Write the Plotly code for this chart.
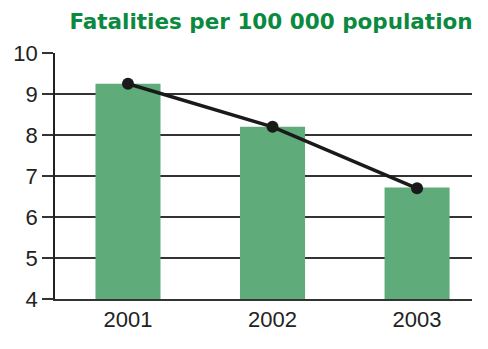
import plotly.graph_objects as go

years = ["2001", "2002", "2003"]
bar_values = [9.25, 8.2, 6.72]
line_values = [9.25, 8.2, 6.7]
y_ticks = [4, 5, 6, 7, 8, 9, 10]
title = "Fatalities per 100 000 population"

fig = go.Figure()
fig.add_trace(go.Bar(x=years, y=bar_values, marker_color="#5fab79",
                     marker_line_width=0, width=0.45))
fig.add_trace(go.Scatter(x=years, y=line_values, mode="lines+markers",
                         line=dict(color="#1a1a1a", width=3.5),
                         marker=dict(color="#1a1a1a", size=12)))

fig.update_layout(
    width=488, height=349,
    margin=dict(l=55, r=16, t=53, b=50),
    plot_bgcolor="white", paper_bgcolor="white",
    showlegend=False,
    font=dict(family="Liberation Sans, Arial, sans-serif", size=22, color="#222"),
    title=dict(text="<b>" + title + "</b>", x=271 / 488, xanchor="center",
               y=1 - 21 / 349, yanchor="middle",
               font=dict(family="DejaVu Sans, sans-serif", size=21.5, color="#0b8a3f")),
    xaxis=dict(type="category", range=[-0.505, 2.38], showgrid=False,
               showline=True, linecolor="#333", linewidth=1.5,
               ticks="", tickfont=dict(size=22), ticklabelstandoff=0),
    yaxis=dict(range=[4, 10], tickvals=y_ticks, showgrid=True,
               gridcolor="#333", gridwidth=1.5,
               showline=True, linecolor="#222", linewidth=1.5,
               ticks="outside", ticklen=11, tickcolor="#333", tickwidth=1.5,
               zeroline=False, tickfont=dict(size=22)),
)
fig.write_html("out.html")
